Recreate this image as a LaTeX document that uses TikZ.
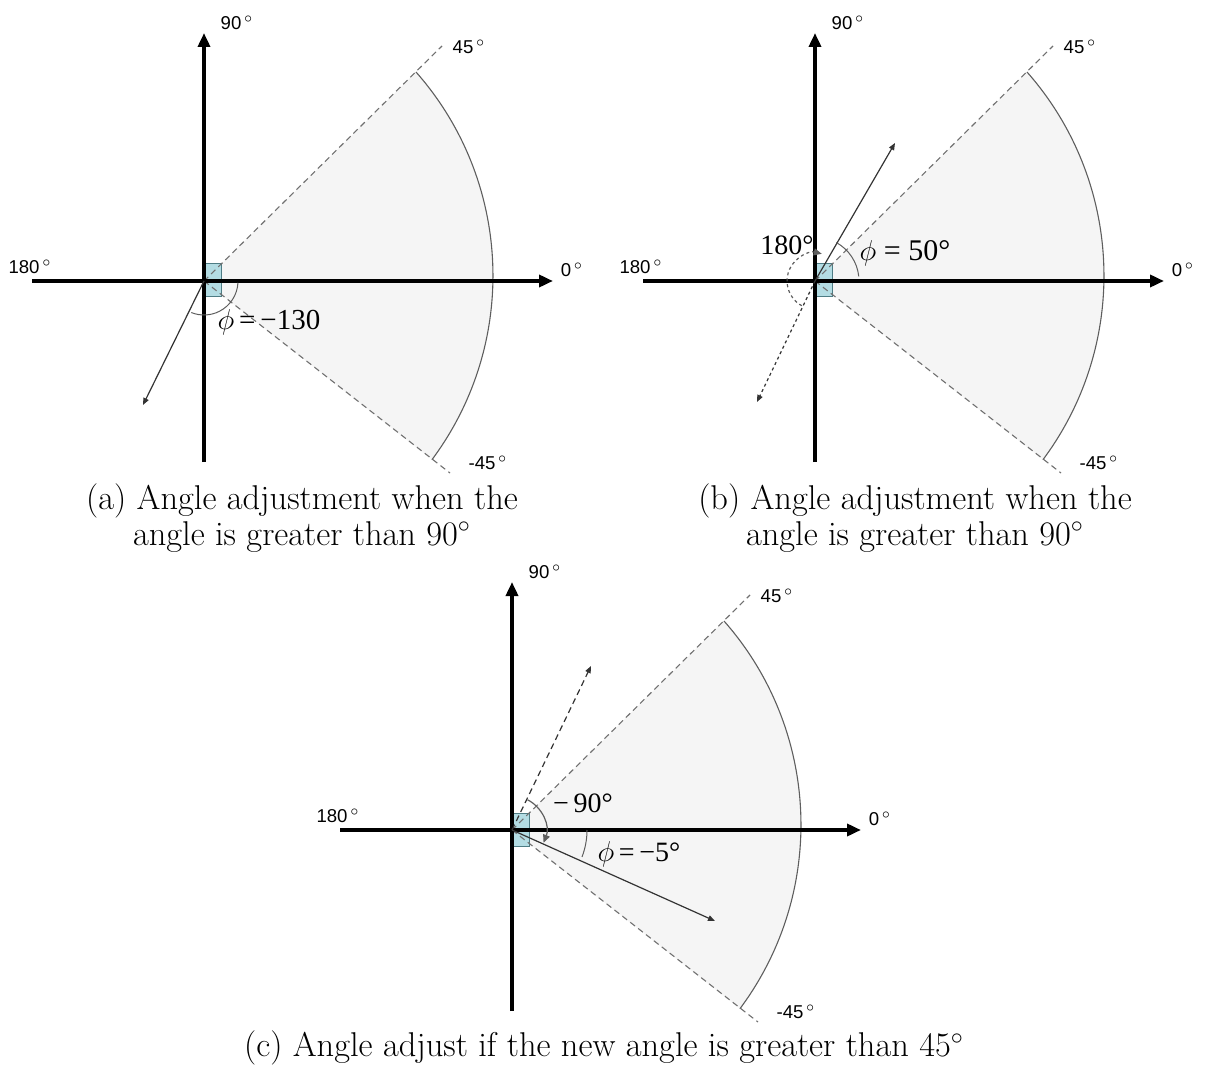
\documentclass[tikz,border=0pt]{standalone}
\usepackage{fontspec}
\newfontfamily\axfont{Liberation Sans}
\newfontfamily\lblfont{Liberation Serif}
\usetikzlibrary{arrows.meta}
\definecolor{sectorfill}{HTML}{F5F5F5}
\definecolor{sectorline}{HTML}{707070}
\definecolor{arcline}{HTML}{5E5E5E}
\definecolor{boxfill}{HTML}{B3DCE3}
\definecolor{boxline}{HTML}{4E7C84}
\definecolor{thinline}{HTML}{333333}
\tikzset{
  axisline/.style={line width=2pt, -{Triangle[length=7pt,width=6pt]}},
  sectordash/.style={draw=sectorline, line width=0.55pt, dash pattern=on 3pt off 2pt},
  rim/.style={draw=arcline, line width=0.55pt},
  vec/.style={draw=thinline, line width=0.6pt, -{Triangle[length=3.5pt,width=2.8pt]}},
  dotvec/.style={vec, dash pattern=on 1.5pt off 1.5pt},
  dashvec/.style={vec, dash pattern=on 3pt off 2pt},
  angarc/.style={draw=arcline, line width=0.5pt},
  axlbl/.style={font=\axfont\fontsize{9.3}{11}\selectfont, inner sep=0pt},
  mathlbl/.style={font=\lblfont\fontsize{14}{16}\selectfont, inner sep=0pt},
  captxt/.style={font=\fontsize{17.2}{18}\selectfont, align=center, inner sep=0pt},
}
\newcommand\basepanel{%
  \coordinate (O) at (0,0);
  \fill[sectorfill] (O) -- (212,209) arc[start angle=41.4, end angle=-36.7, radius=308] -- cycle;
  \draw[rim] (212,209) arc[start angle=41.4, end angle=-36.7, radius=308];
  \draw[fill=boxfill, draw=boxline, line width=0.5pt] (0,-16) rectangle (17,17);
  \coordinate (T) at (238,235);
  \coordinate (B) at (246,-192);
  \draw[sectordash] (O) -- (T);
  \draw[sectordash] (O) -- (B);
  \coordinate (L) at (-172,0);
  \coordinate (R) at (349,0);
  \coordinate (D) at (0,-181);
  \coordinate (U) at (0,248);
  \draw[axisline] (L) -- (R);
  \draw[axisline] (D) -- (U);
  \node[axlbl] (l90) at (33,258) {90$^{\,\circ}$};
  \node[axlbl] (l180) at (-174,14) {180$^{\,\circ}$};
  \node[axlbl] (l0) at (368,11) {0$^{\,\circ}$};
  \node[axlbl] (l45) at (265,234) {45$^{\,\circ}$};
  \node[axlbl] (lm45) at (284,-182) {-45$^{\,\circ}$};
}
\begin{document}
\begin{tikzpicture}[x=0.5pt,y=0.5pt]
\useasboundingbox (0,0) rectangle (1205,-1075);
% panel (a)
\begin{scope}[shift={(204,-281)}, name prefix=a-]
  \basepanel
  \coordinate (v) at (-61,-124);
  \draw[vec] (O) -- (v);
  \draw[angarc] (-3:34) arc[start angle=-3, end angle=-112, radius=34];
  \node[mathlbl, font=\lblfont\fontsize{14.5}{16}\selectfont] (phi) at (65,-41) {$\phi$\,=\,−130};
\end{scope}
\node[captxt] (capa) at (302,-518) {(a) Angle adjustment when the\\angle is greater than 90$^\circ$};
% panel (b)
\begin{scope}[shift={(815,-281)}, name prefix=b-]
  \basepanel
  \coordinate (v) at (80,138);
  \coordinate (w) at (-58,-121);
  \draw[vec] (O) -- (v);
  \draw[dotvec] (O) -- (w);
  \draw[dotvec, draw=arcline, -{Triangle[length=4pt,width=3.5pt]}] (-118:28) arc[start angle=-118, end angle=-284, radius=28];
  \draw[angarc] (61:44) arc[start angle=61, end angle=6, radius=44];
  \node[mathlbl] (n180) at (-28,36) {180°};
  \node[mathlbl, font=\lblfont\fontsize{15}{17}\selectfont] (phi) at (90,28) {$\phi$ = 50°};
\end{scope}
\node[captxt] (capb) at (915,-518) {(b) Angle adjustment when the\\angle is greater than 90$^\circ$};
% panel (c)
\begin{scope}[shift={(512,-830)}, name prefix=c-]
  \basepanel
  \coordinate (v) at (203,-91);
  \coordinate (w) at (79,164);
  \draw[dashvec] (O) -- (w);
  \draw[vec] (O) -- (v);
  \draw[vec, draw=arcline, -{Triangle[length=4pt,width=3.5pt]}] (63:34) arc[start angle=63, end angle=-22, radius=34];
  \draw[angarc] (0:75) arc[start angle=0, end angle=-21, radius=75];
  \node[mathlbl] (m90) at (71,27) {−\,90°};
  \node[mathlbl] (phi) at (127,-24) {$\phi$\,=\,−5°};
\end{scope}
\node[captxt] (capc) at (604,-1048) {(c) Angle adjust if the new angle is greater than 45$^\circ$};
\end{tikzpicture}
\end{document}
